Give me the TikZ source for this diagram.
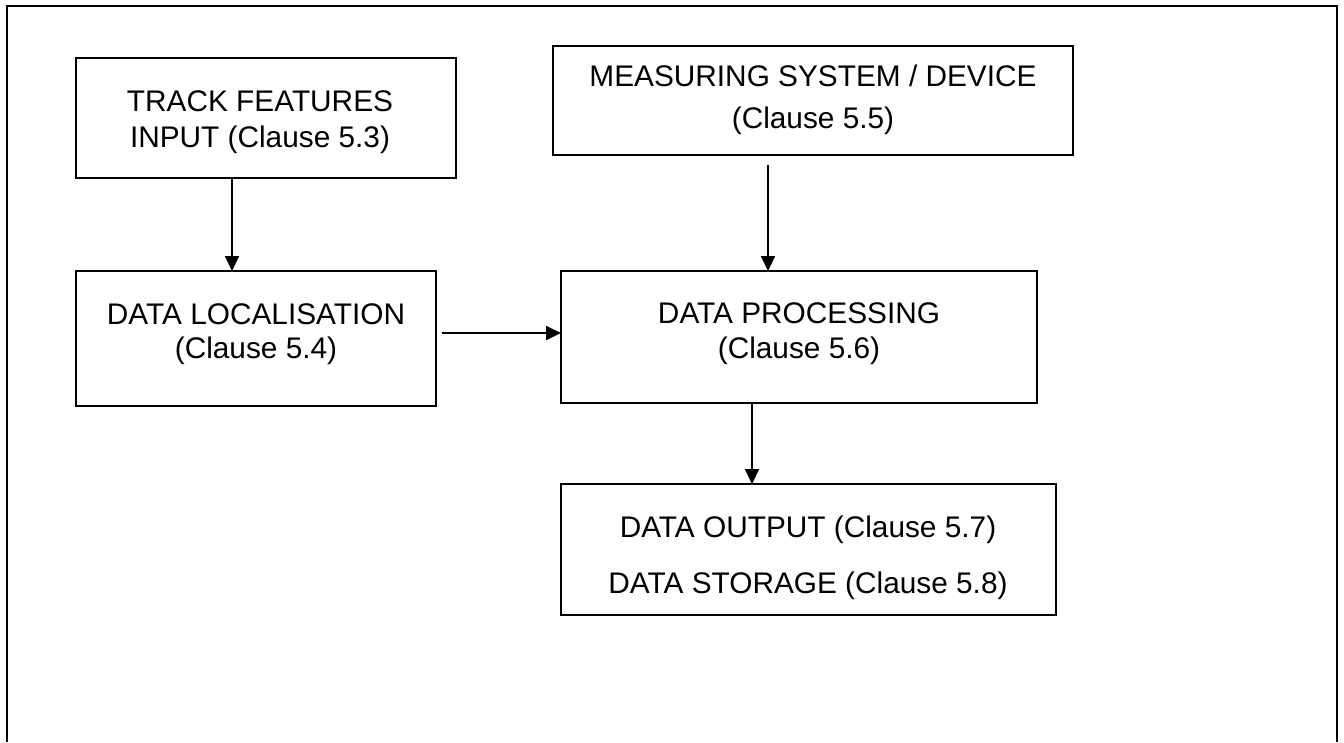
\documentclass[tikz,border=0pt]{standalone}
\usepackage{fontspec}
\setmainfont{Liberation Sans}
\usetikzlibrary{arrows.meta}
\begin{document}
\begin{tikzpicture}[x=1pt,y=-1pt,
  box/.style={draw=black,line width=2.2pt},
  txt/.style={anchor=base,inner sep=0pt,font=\fontsize{29.8}{36}\selectfont},
  flow/.style={line width=2pt,-{Triangle[length=15pt,width=14pt]}}]
\useasboundingbox (0,0) rectangle (1344,742);
% outer frame, open at the bottom
\draw[line width=2.5pt] (7,742) -- (7,6) -- (1337,6) -- (1337,742);
% boxes and the points where connectors meet them
\draw[box] (76,58) rectangle (456,178);
\coordinate (trackS) at (232,178);
\draw[box] (553,46) rectangle (1073,155);
\coordinate (measS) at (768,165);
\draw[box] (76,271) rectangle (436,406);
\coordinate (locN) at (232,271);
\coordinate (locE) at (442,333);
\draw[box] (561,271) rectangle (1037,403);
\coordinate (procW) at (561,333);
\coordinate (procN) at (768,271);
\coordinate (procS) at (752,403);
\draw[box] (561,484) rectangle (1056,615);
\coordinate (outN) at (752,484);
% texts
\node[txt] (t1a) at (260,111) {TRACK FEATURES};
\node[txt] (t1b) at (260,147) {INPUT (Clause 5.3)};
\node[txt] (t2a) at (813,86) {MEASURING SYSTEM / DEVICE};
\node[txt] (t2b) at (813,128) {(Clause 5.5)};
\node[txt] (t3a) at (256,324) {DATA LOCALISATION};
\node[txt] (t3b) at (256,358) {(Clause 5.4)};
\node[txt] (t4a) at (799,323) {DATA PROCESSING};
\node[txt] (t4b) at (799,358) {(Clause 5.6)};
\node[txt] (t5a) at (808,537) {DATA OUTPUT (Clause 5.7)};
\node[txt] (t5b) at (808,593) {DATA STORAGE (Clause 5.8)};
% connectors
\draw[flow] (trackS) -- (locN);
\draw[flow] (measS) -- (procN);
\draw[flow] (locE) -- (procW);
\draw[flow] (procS) -- (outN);
\end{tikzpicture}
\end{document}
